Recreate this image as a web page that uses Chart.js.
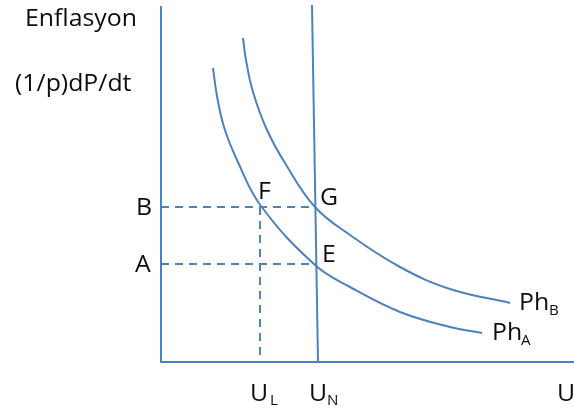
<!DOCTYPE html>
<html>
<head>
<meta charset="utf-8">
<script src="https://cdn.jsdelivr.net/npm/chart.js@4"></script>
<style>
  html, body { margin: 0; padding: 0; background: #fff; }
</style>
</head>
<body>
<canvas id="phillips" width="574" height="410"></canvas>
<script>
// Phillips curve diagram: x = unemployment (U), y = inflation
const phA = [[52, 294], [56, 266], [63, 235], [76, 202], [100, 156], [154, 97], [189, 75], [239, 50], [289, 35], [321, 29]];
const phB = [[82, 324], [85, 302], [92, 270], [106, 232], [124, 199], [154, 155], [189, 127], [239, 95], [289, 73], [349, 59]];
const naturalRate = [[151, 357], [157, 0]];   // U_N vertical line (slightly slanted)
const levelB = 155;
const levelA = 98;
const uL = 99;
const gX = 154;
const eX = 155;

const blue = '#4f81bd';

function pts(arr) {
    return arr.map(p => ({ x: p[0], y: p[1] }));
}

function lineSet(data, opts) {
    return Object.assign({
        data: data,
        borderColor: blue,
        borderWidth: 2,
        pointRadius: 0,
        showLine: true,
        fill: false,
        clip: false
    }, opts || {});
}

// text labels drawn on top of the plot
const labelPlugin = {
    id: 'labels',
    afterDatasetsDraw(chart) {
        const ctx = chart.ctx;
        const font = '"Open Sans", sans-serif';
        ctx.save();
        ctx.fillStyle = '#0d0d0d';
        ctx.textBaseline = 'alphabetic';
        ctx.textAlign = 'left';

        // text is a bit wide in the original, so stretch it a little
        function txt(s, x, y, size) {
            ctx.save();
            ctx.font = '500 ' + size + 'px ' + font;
            ctx.translate(x, y);
            ctx.scale(1.08, 1);
            ctx.fillText(s, 0, 0);
            ctx.restore();
        }

        txt('Enflasyon', 25, 26, 23);
        txt('(1/p)dP/dt', 15, 91, 23);
        txt('B', 136, 215, 23);
        txt('A', 135, 272, 23);
        txt('F', 258, 199, 23);
        txt('G', 320, 205, 23);
        txt('E', 322, 262, 23);
        txt('U', 250, 401, 23);
        txt('L', 270, 405, 14);
        txt('U', 309, 401, 23);
        txt('N', 327, 405, 14);
        txt('U', 557, 401, 23);
        txt('Ph', 519, 310, 23);
        txt('B', 549, 315, 14);
        txt('Ph', 492, 340, 23);
        txt('A', 521, 345, 14);
        ctx.restore();
    }
};

new Chart(document.getElementById('phillips'), {
    type: 'scatter',
    data: {
        datasets: [
            // axes
            lineSet([{ x: 0, y: 356 }, { x: 0, y: 0 }, { x: 413, y: 0 }]),
            // U_N
            lineSet(pts(naturalRate)),
            // dashed guides
            lineSet([{ x: 0, y: levelB }, { x: gX, y: levelB }], { borderDash: [8, 6] }),
            lineSet([{ x: 0, y: levelA }, { x: eX, y: levelA }], { borderDash: [8, 6] }),
            lineSet([{ x: uL, y: levelB }, { x: uL, y: 0 }], { borderDash: [8, 6] }),
            // Phillips curves
            lineSet(pts(phA), { tension: 0.4 }),
            lineSet(pts(phB), { tension: 0.4 })
        ]
    },
    options: {
        responsive: false,
        animation: false,
        devicePixelRatio: 1,
        layout: { padding: { left: 161, right: 0, top: 5, bottom: 48 } },
        plugins: {
            legend: { display: false },
            tooltip: { enabled: false }
        },
        scales: {
            x: { type: 'linear', min: 0, max: 413, display: false },
            y: { type: 'linear', min: 0, max: 357, display: false }
        }
    },
    plugins: [labelPlugin]
});
</script>
</body>
</html>
